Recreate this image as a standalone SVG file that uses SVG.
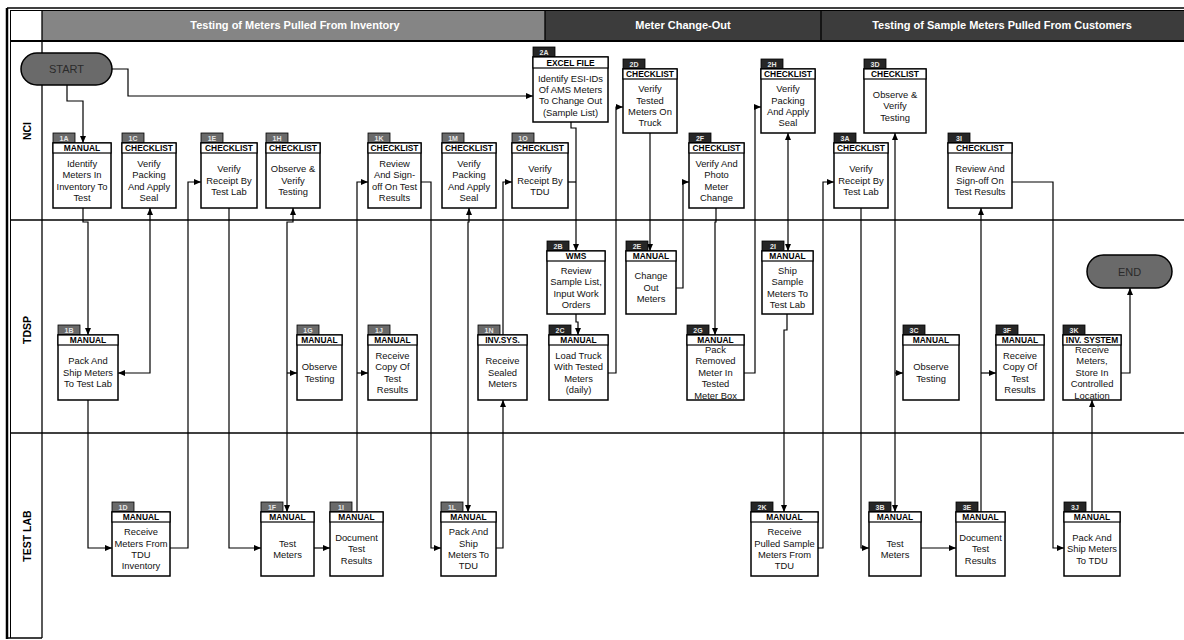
<svg xmlns="http://www.w3.org/2000/svg" width="1184" height="640" viewBox="0 0 1184 640">
<style>
.box{fill:#fff;stroke:#000;stroke-width:1.5}
.hd{fill:#fff;stroke:#000;stroke-width:1.2}
.hdr{font-family:"Liberation Sans",Arial,sans-serif;font-size:8.4px;font-weight:bold;text-anchor:middle;fill:#000}
.body{font-family:"Liberation Sans",Arial,sans-serif;font-size:9.4px;text-anchor:middle;fill:#111}
.tab{stroke:#000;stroke-width:0.8}
.ta{fill:#6a6a6a}
.tb{fill:#262626}
.tid{font-family:"Liberation Sans",Arial,sans-serif;font-size:7px;font-weight:bold;text-anchor:middle;fill:#e6e6e6}
.conn path{fill:none;stroke:#000;stroke-width:1.2}
.ln{stroke:#000;stroke-width:1.3;fill:none}
.band{font-family:"Liberation Sans",Arial,sans-serif;font-size:11px;font-weight:bold;text-anchor:middle;fill:#fff}
.lane{font-family:"Liberation Sans",Arial,sans-serif;font-size:10.5px;font-weight:bold;text-anchor:middle;fill:#000}
.term{fill:#6a6a6a;stroke:#000;stroke-width:1.5}
.tt{font-family:"Liberation Sans",Arial,sans-serif;font-size:11px;text-anchor:middle;fill:#2a2a2a}
</style>
<defs>
<marker id="ar" markerWidth="7" markerHeight="6" refX="7" refY="3" orient="auto-start-reverse" markerUnits="userSpaceOnUse"><path d="M0,0 L7,3 L0,6 z" fill="#000"/></marker>
</defs>
<rect width="1184" height="640" fill="#fff"/>
<!-- frame and lanes -->
<g id="frame">
<rect x="42" y="10" width="503" height="31" fill="#858585"/>
<rect x="545" y="10" width="276" height="31" fill="#3c3c3c"/>
<rect x="821" y="10" width="363" height="31" fill="#3c3c3c"/>
<line class="ln" x1="545" y1="10" x2="545" y2="41"/>
<line class="ln" x1="821" y1="10" x2="821" y2="41"/>
<text class="band" x="295" y="29">Testing of Meters Pulled From Inventory</text>
<text class="band" x="683" y="29">Meter Change-Out</text>
<text class="band" x="1002" y="29">Testing of Sample Meters Pulled From Customers</text>
<line x1="7" y1="8" x2="1184" y2="8" stroke="#000" stroke-width="1.5"/>
<line x1="10" y1="10.5" x2="1184" y2="10.5" stroke="#000" stroke-width="1"/>
<line x1="7" y1="8" x2="7" y2="639" stroke="#000" stroke-width="2.5"/>
<line x1="10.5" y1="10" x2="10.5" y2="638" stroke="#000" stroke-width="1"/>
<line class="ln" x1="42" y1="10" x2="42" y2="638"/>
<line x1="10" y1="41" x2="1184" y2="41" stroke="#000" stroke-width="2"/>
<line class="ln" x1="10" y1="220" x2="1184" y2="220"/>
<line class="ln" x1="10" y1="433" x2="1184" y2="433"/>
<line class="ln" x1="7" y1="638" x2="42" y2="638"/>
<text class="lane" transform="translate(31,131) rotate(-90)">NCI</text>
<text class="lane" transform="translate(31,330) rotate(-90)">TDSP</text>
<text class="lane" transform="translate(31,536) rotate(-90)">TEST LAB</text>
</g>
<!-- connectors -->
<g id="connectors" class="conn">
<path d="M67,85 V101 H83 V143" marker-end="url(#ar)"/>
<path d="M112,69 H128 V96 H533" marker-end="url(#ar)"/>
<path d="M83,208 V222 H88 V335" marker-end="url(#ar)"/>
<path d="M118,373 H150 V208" marker-start="url(#ar)" marker-end="url(#ar)"/>
<path d="M88,400 V548 H112" marker-end="url(#ar)"/>
<path d="M170,548 H188 V182 H201" marker-end="url(#ar)"/>
<path d="M229,208 V548 H261" marker-end="url(#ar)"/>
<path d="M314,548 H330" marker-end="url(#ar)"/>
<path d="M293,208 V222 H287 V512" marker-start="url(#ar)" marker-end="url(#ar)"/>
<path d="M287,373 H297" marker-end="url(#ar)"/>
<path d="M357,512 V182 H368" marker-end="url(#ar)"/>
<path d="M357,373 H368" marker-end="url(#ar)"/>
<path d="M421,182 H431 V548 H441" marker-end="url(#ar)"/>
<path d="M469,208 V222 H468 V512" marker-start="url(#ar)" marker-end="url(#ar)"/>
<path d="M496,548 H503 V400" marker-end="url(#ar)"/>
<path d="M503,335 V182 H512" marker-end="url(#ar)"/>
<path d="M571,122 V128 H576 V251" marker-end="url(#ar)"/>
<path d="M568,182 H576"/>
<path d="M576,314 V322 H578 V335" marker-end="url(#ar)"/>
<path d="M608,373 H616 V107 H623" marker-end="url(#ar)"/>
<path d="M650,133 V251" marker-end="url(#ar)"/>
<path d="M676,288 H683 V182 H689" marker-end="url(#ar)"/>
<path d="M716,208 V222 H715 V335" marker-end="url(#ar)"/>
<path d="M744,373 H755 V107 H761" marker-end="url(#ar)"/>
<path d="M788,133 V251" marker-start="url(#ar)" marker-end="url(#ar)"/>
<path d="M787,314 V330 H784 V512" marker-end="url(#ar)"/>
<path d="M818,548 H823 V182 H834" marker-end="url(#ar)"/>
<path d="M861,208 V548 H869" marker-end="url(#ar)"/>
<path d="M895,512 V133" marker-start="url(#ar)" marker-end="url(#ar)"/>
<path d="M895,373 H903" marker-end="url(#ar)"/>
<path d="M921,548 H956" marker-end="url(#ar)"/>
<path d="M981,512 V208" marker-end="url(#ar)"/>
<path d="M981,373 H996" marker-end="url(#ar)"/>
<path d="M1012,182 H1053 V548 H1064" marker-end="url(#ar)"/>
<path d="M1092,512 V400" marker-end="url(#ar)"/>
<path d="M1121,373 H1130 V288" marker-end="url(#ar)"/>
</g>
<!-- terminals -->
<g id="start"><rect class="term" x="21" y="53" width="91" height="32" rx="16"/><text class="tt" x="66.5" y="73">START</text></g>
<g id="end"><rect class="term" x="1087" y="255" width="85" height="33" rx="16.5"/><text class="tt" x="1129.5" y="275.5">END</text></g>
<!-- NCI nodes -->
<g id="n1A"><rect class="tab ta" x="53" y="133" width="22" height="10"/><text class="tid" x="64" y="140.5">1A</text><rect class="box" x="53" y="143" width="58" height="65"/><text class="body" x="82" y="166.7"><tspan x="82">Identify</tspan><tspan x="82" dy="11.4">Meters In</tspan><tspan x="82" dy="11.4">Inventory To</tspan><tspan x="82" dy="11.4">Test</tspan></text><rect class="hd" x="53" y="143" width="58" height="10"/><text class="hdr" x="82" y="151.3">MANUAL</text></g>
<g id="n1C"><rect class="tab ta" x="122" y="133" width="22" height="10"/><text class="tid" x="133" y="140.5">1C</text><rect class="box" x="122" y="143" width="54" height="65"/><text class="body" x="149" y="166.7"><tspan x="149">Verify</tspan><tspan x="149" dy="11.4">Packing</tspan><tspan x="149" dy="11.4">And Apply</tspan><tspan x="149" dy="11.4">Seal</tspan></text><rect class="hd" x="122" y="143" width="54" height="10"/><text class="hdr" x="149" y="151.3">CHECKLIST</text></g>
<g id="n1E"><rect class="tab ta" x="201" y="133" width="22" height="10"/><text class="tid" x="212" y="140.5">1E</text><rect class="box" x="201" y="143" width="56" height="65"/><text class="body" x="229" y="172.4"><tspan x="229">Verify</tspan><tspan x="229" dy="11.4">Receipt By</tspan><tspan x="229" dy="11.4">Test Lab</tspan></text><rect class="hd" x="201" y="143" width="56" height="10"/><text class="hdr" x="229" y="151.3">CHECKLIST</text></g>
<g id="n1H"><rect class="tab ta" x="266" y="133" width="22" height="10"/><text class="tid" x="277" y="140.5">1H</text><rect class="box" x="266" y="143" width="54" height="65"/><text class="body" x="293" y="172.4"><tspan x="293">Observe &amp;</tspan><tspan x="293" dy="11.4">Verify</tspan><tspan x="293" dy="11.4">Testing</tspan></text><rect class="hd" x="266" y="143" width="54" height="10"/><text class="hdr" x="293" y="151.3">CHECKLIST</text></g>
<g id="n1K"><rect class="tab ta" x="368" y="133" width="22" height="10"/><text class="tid" x="379" y="140.5">1K</text><rect class="box" x="368" y="143" width="53" height="65"/><text class="body" x="394.5" y="166.7"><tspan x="394.5">Review</tspan><tspan x="394.5" dy="11.4">And Sign-</tspan><tspan x="394.5" dy="11.4">off On Test</tspan><tspan x="394.5" dy="11.4">Results</tspan></text><rect class="hd" x="368" y="143" width="53" height="10"/><text class="hdr" x="394.5" y="151.3">CHECKLIST</text></g>
<g id="n1M"><rect class="tab ta" x="442" y="133" width="22" height="10"/><text class="tid" x="453" y="140.5">1M</text><rect class="box" x="442" y="143" width="54" height="65"/><text class="body" x="469" y="166.7"><tspan x="469">Verify</tspan><tspan x="469" dy="11.4">Packing</tspan><tspan x="469" dy="11.4">And Apply</tspan><tspan x="469" dy="11.4">Seal</tspan></text><rect class="hd" x="442" y="143" width="54" height="10"/><text class="hdr" x="469" y="151.3">CHECKLIST</text></g>
<g id="n1O"><rect class="tab ta" x="512" y="133" width="22" height="10"/><text class="tid" x="523" y="140.5">1O</text><rect class="box" x="512" y="143" width="56" height="65"/><text class="body" x="540" y="172.4"><tspan x="540">Verify</tspan><tspan x="540" dy="11.4">Receipt By</tspan><tspan x="540" dy="11.4">TDU</tspan></text><rect class="hd" x="512" y="143" width="56" height="10"/><text class="hdr" x="540" y="151.3">CHECKLIST</text></g>
<g id="n2A"><rect class="tab tb" x="533" y="47" width="22" height="10"/><text class="tid" x="544" y="54.5">2A</text><rect class="box" x="533" y="57" width="75" height="65"/><text class="body" x="570.5" y="81.5"><tspan x="570.5">Identify ESI-IDs</tspan><tspan x="570.5" dy="11.4">Of AMS Meters</tspan><tspan x="570.5" dy="11.4">To Change Out</tspan><tspan x="570.5" dy="11.4">(Sample List)</tspan></text><rect class="hd" x="533" y="57" width="75" height="11"/><text class="hdr" x="570.5" y="65.8">EXCEL FILE</text></g>
<g id="n2D"><rect class="tab tb" x="623" y="59" width="22" height="10"/><text class="tid" x="634" y="66.5">2D</text><rect class="box" x="623" y="69" width="54" height="64"/><text class="body" x="650" y="92.2"><tspan x="650">Verify</tspan><tspan x="650" dy="11.4">Tested</tspan><tspan x="650" dy="11.4">Meters On</tspan><tspan x="650" dy="11.4">Truck</tspan></text><rect class="hd" x="623" y="69" width="54" height="10"/><text class="hdr" x="650" y="77.3">CHECKLIST</text></g>
<g id="n2F"><rect class="tab tb" x="689" y="133" width="22" height="10"/><text class="tid" x="700" y="140.5">2F</text><rect class="box" x="689" y="143" width="55" height="65"/><text class="body" x="716.5" y="166.7"><tspan x="716.5">Verify And</tspan><tspan x="716.5" dy="11.4">Photo</tspan><tspan x="716.5" dy="11.4">Meter</tspan><tspan x="716.5" dy="11.4">Change</tspan></text><rect class="hd" x="689" y="143" width="55" height="10"/><text class="hdr" x="716.5" y="151.3">CHECKLIST</text></g>
<g id="n2H"><rect class="tab tb" x="761" y="59" width="22" height="10"/><text class="tid" x="772" y="66.5">2H</text><rect class="box" x="761" y="69" width="54" height="64"/><text class="body" x="788" y="92.2"><tspan x="788">Verify</tspan><tspan x="788" dy="11.4">Packing</tspan><tspan x="788" dy="11.4">And Apply</tspan><tspan x="788" dy="11.4">Seal</tspan></text><rect class="hd" x="761" y="69" width="54" height="10"/><text class="hdr" x="788" y="77.3">CHECKLIST</text></g>
<g id="n3D"><rect class="tab tb" x="864" y="59" width="22" height="10"/><text class="tid" x="875" y="66.5">3D</text><rect class="box" x="864" y="69" width="62" height="64"/><text class="body" x="895" y="97.9"><tspan x="895">Observe &amp;</tspan><tspan x="895" dy="11.4">Verify</tspan><tspan x="895" dy="11.4">Testing</tspan></text><rect class="hd" x="864" y="69" width="62" height="10"/><text class="hdr" x="895" y="77.3">CHECKLIST</text></g>
<g id="n3A"><rect class="tab tb" x="834" y="133" width="22" height="10"/><text class="tid" x="845" y="140.5">3A</text><rect class="box" x="834" y="143" width="54" height="65"/><text class="body" x="861" y="172.4"><tspan x="861">Verify</tspan><tspan x="861" dy="11.4">Receipt By</tspan><tspan x="861" dy="11.4">Test Lab</tspan></text><rect class="hd" x="834" y="143" width="54" height="10"/><text class="hdr" x="861" y="151.3">CHECKLIST</text></g>
<g id="n3I"><rect class="tab tb" x="948" y="133" width="22" height="10"/><text class="tid" x="959" y="140.5">3I</text><rect class="box" x="948" y="143" width="64" height="65"/><text class="body" x="980" y="172.4"><tspan x="980">Review And</tspan><tspan x="980" dy="11.4">Sign-off On</tspan><tspan x="980" dy="11.4">Test Results</tspan></text><rect class="hd" x="948" y="143" width="64" height="10"/><text class="hdr" x="980" y="151.3">CHECKLIST</text></g>
<!-- TDSP nodes -->
<g id="n1B"><rect class="tab ta" x="58" y="325" width="22" height="10"/><text class="tid" x="69" y="332.5">1B</text><rect class="box" x="58" y="335" width="60" height="65"/><text class="body" x="88" y="364.4"><tspan x="88">Pack And</tspan><tspan x="88" dy="11.4">Ship Meters</tspan><tspan x="88" dy="11.4">To Test Lab</tspan></text><rect class="hd" x="58" y="335" width="60" height="10"/><text class="hdr" x="88" y="343.3">MANUAL</text></g>
<g id="n1G"><rect class="tab ta" x="297" y="325" width="22" height="10"/><text class="tid" x="308" y="332.5">1G</text><rect class="box" x="297" y="335" width="45" height="65"/><text class="body" x="319.5" y="370.1"><tspan x="319.5">Observe</tspan><tspan x="319.5" dy="11.4">Testing</tspan></text><rect class="hd" x="297" y="335" width="45" height="10"/><text class="hdr" x="319.5" y="343.3">MANUAL</text></g>
<g id="n1J"><rect class="tab ta" x="368" y="325" width="22" height="10"/><text class="tid" x="379" y="332.5">1J</text><rect class="box" x="368" y="335" width="49" height="65"/><text class="body" x="392.5" y="358.7"><tspan x="392.5">Receive</tspan><tspan x="392.5" dy="11.4">Copy Of</tspan><tspan x="392.5" dy="11.4">Test</tspan><tspan x="392.5" dy="11.4">Results</tspan></text><rect class="hd" x="368" y="335" width="49" height="10"/><text class="hdr" x="392.5" y="343.3">MANUAL</text></g>
<g id="n1N"><rect class="tab ta" x="478" y="325" width="22" height="10"/><text class="tid" x="489" y="332.5">1N</text><rect class="box" x="478" y="335" width="49" height="65"/><text class="body" x="502.5" y="364.4"><tspan x="502.5">Receive</tspan><tspan x="502.5" dy="11.4">Sealed</tspan><tspan x="502.5" dy="11.4">Meters</tspan></text><rect class="hd" x="478" y="335" width="49" height="10"/><text class="hdr" x="502.5" y="343.3">INV.SYS.</text></g>
<g id="n2B"><rect class="tab tb" x="547" y="241" width="22" height="10"/><text class="tid" x="558" y="248.5">2B</text><rect class="box" x="547" y="251" width="58" height="63"/><text class="body" x="576" y="273.7"><tspan x="576">Review</tspan><tspan x="576" dy="11.4">Sample List,</tspan><tspan x="576" dy="11.4">Input Work</tspan><tspan x="576" dy="11.4">Orders</tspan></text><rect class="hd" x="547" y="251" width="58" height="10"/><text class="hdr" x="576" y="259.3">WMS</text></g>
<g id="n2C"><rect class="tab tb" x="549" y="325" width="22" height="10"/><text class="tid" x="560" y="332.5">2C</text><rect class="box" x="549" y="335" width="59" height="65"/><text class="body" x="578.5" y="358.7"><tspan x="578.5">Load Truck</tspan><tspan x="578.5" dy="11.4">With Tested</tspan><tspan x="578.5" dy="11.4">Meters</tspan><tspan x="578.5" dy="11.4">(daily)</tspan></text><rect class="hd" x="549" y="335" width="59" height="10"/><text class="hdr" x="578.5" y="343.3">MANUAL</text></g>
<g id="n2E"><rect class="tab tb" x="626" y="241" width="22" height="10"/><text class="tid" x="637" y="248.5">2E</text><rect class="box" x="626" y="251" width="50" height="63"/><text class="body" x="651" y="279.4"><tspan x="651">Change</tspan><tspan x="651" dy="11.4">Out</tspan><tspan x="651" dy="11.4">Meters</tspan></text><rect class="hd" x="626" y="251" width="50" height="10"/><text class="hdr" x="651" y="259.3">MANUAL</text></g>
<g id="n2G"><rect class="tab tb" x="687" y="325" width="22" height="10"/><text class="tid" x="698" y="332.5">2G</text><rect class="box" x="687" y="335" width="57" height="65"/><text class="body" x="715.5" y="353"><tspan x="715.5">Pack</tspan><tspan x="715.5" dy="11.4">Removed</tspan><tspan x="715.5" dy="11.4">Meter In</tspan><tspan x="715.5" dy="11.4">Tested</tspan><tspan x="715.5" dy="11.4">Meter Box</tspan></text><rect class="hd" x="687" y="335" width="57" height="10"/><text class="hdr" x="715.5" y="343.3">MANUAL</text></g>
<g id="n2I"><rect class="tab tb" x="762" y="241" width="22" height="10"/><text class="tid" x="773" y="248.5">2I</text><rect class="box" x="762" y="251" width="51" height="63"/><text class="body" x="787.5" y="273.7"><tspan x="787.5">Ship</tspan><tspan x="787.5" dy="11.4">Sample</tspan><tspan x="787.5" dy="11.4">Meters To</tspan><tspan x="787.5" dy="11.4">Test Lab</tspan></text><rect class="hd" x="762" y="251" width="51" height="10"/><text class="hdr" x="787.5" y="259.3">MANUAL</text></g>
<g id="n3C"><rect class="tab tb" x="903" y="325" width="22" height="10"/><text class="tid" x="914" y="332.5">3C</text><rect class="box" x="903" y="335" width="56" height="65"/><text class="body" x="931" y="370.1"><tspan x="931">Observe</tspan><tspan x="931" dy="11.4">Testing</tspan></text><rect class="hd" x="903" y="335" width="56" height="10"/><text class="hdr" x="931" y="343.3">MANUAL</text></g>
<g id="n3F"><rect class="tab tb" x="996" y="325" width="22" height="10"/><text class="tid" x="1007" y="332.5">3F</text><rect class="box" x="996" y="335" width="48" height="65"/><text class="body" x="1020" y="358.7"><tspan x="1020">Receive</tspan><tspan x="1020" dy="11.4">Copy Of</tspan><tspan x="1020" dy="11.4">Test</tspan><tspan x="1020" dy="11.4">Results</tspan></text><rect class="hd" x="996" y="335" width="48" height="10"/><text class="hdr" x="1020" y="343.3">MANUAL</text></g>
<g id="n3K"><rect class="tab tb" x="1063" y="325" width="22" height="10"/><text class="tid" x="1074" y="332.5">3K</text><rect class="box" x="1063" y="335" width="58" height="65"/><text class="body" x="1092" y="353"><tspan x="1092">Receive</tspan><tspan x="1092" dy="11.4">Meters,</tspan><tspan x="1092" dy="11.4">Store In</tspan><tspan x="1092" dy="11.4">Controlled</tspan><tspan x="1092" dy="11.4">Location</tspan></text><rect class="hd" x="1063" y="335" width="58" height="10"/><text class="hdr" x="1092" y="343.3">INV. SYSTEM</text></g>
<!-- TEST LAB nodes -->
<g id="n1D"><rect class="tab ta" x="112" y="502" width="22" height="10"/><text class="tid" x="123" y="509.5">1D</text><rect class="box" x="112" y="512" width="58" height="64"/><text class="body" x="141" y="535.2"><tspan x="141">Receive</tspan><tspan x="141" dy="11.4">Meters From</tspan><tspan x="141" dy="11.4">TDU</tspan><tspan x="141" dy="11.4">Inventory</tspan></text><rect class="hd" x="112" y="512" width="58" height="10"/><text class="hdr" x="141" y="520.3">MANUAL</text></g>
<g id="n1F"><rect class="tab ta" x="261" y="502" width="22" height="10"/><text class="tid" x="272" y="509.5">1F</text><rect class="box" x="261" y="512" width="53" height="64"/><text class="body" x="287.5" y="546.6"><tspan x="287.5">Test</tspan><tspan x="287.5" dy="11.4">Meters</tspan></text><rect class="hd" x="261" y="512" width="53" height="10"/><text class="hdr" x="287.5" y="520.3">MANUAL</text></g>
<g id="n1I"><rect class="tab ta" x="330" y="502" width="22" height="10"/><text class="tid" x="341" y="509.5">1I</text><rect class="box" x="330" y="512" width="53" height="64"/><text class="body" x="356.5" y="540.9"><tspan x="356.5">Document</tspan><tspan x="356.5" dy="11.4">Test</tspan><tspan x="356.5" dy="11.4">Results</tspan></text><rect class="hd" x="330" y="512" width="53" height="10"/><text class="hdr" x="356.5" y="520.3">MANUAL</text></g>
<g id="n1L"><rect class="tab ta" x="441" y="502" width="22" height="10"/><text class="tid" x="452" y="509.5">1L</text><rect class="box" x="441" y="512" width="55" height="64"/><text class="body" x="468.5" y="535.2"><tspan x="468.5">Pack And</tspan><tspan x="468.5" dy="11.4">Ship</tspan><tspan x="468.5" dy="11.4">Meters To</tspan><tspan x="468.5" dy="11.4">TDU</tspan></text><rect class="hd" x="441" y="512" width="55" height="10"/><text class="hdr" x="468.5" y="520.3">MANUAL</text></g>
<g id="n2K"><rect class="tab tb" x="751" y="502" width="22" height="10"/><text class="tid" x="762" y="509.5">2K</text><rect class="box" x="751" y="512" width="67" height="64"/><text class="body" x="784.5" y="535.2"><tspan x="784.5">Receive</tspan><tspan x="784.5" dy="11.4">Pulled Sample</tspan><tspan x="784.5" dy="11.4">Meters From</tspan><tspan x="784.5" dy="11.4">TDU</tspan></text><rect class="hd" x="751" y="512" width="67" height="10"/><text class="hdr" x="784.5" y="520.3">MANUAL</text></g>
<g id="n3B"><rect class="tab tb" x="869" y="502" width="22" height="10"/><text class="tid" x="880" y="509.5">3B</text><rect class="box" x="869" y="512" width="52" height="64"/><text class="body" x="895" y="546.6"><tspan x="895">Test</tspan><tspan x="895" dy="11.4">Meters</tspan></text><rect class="hd" x="869" y="512" width="52" height="10"/><text class="hdr" x="895" y="520.3">MANUAL</text></g>
<g id="n3E"><rect class="tab tb" x="956" y="502" width="22" height="10"/><text class="tid" x="967" y="509.5">3E</text><rect class="box" x="956" y="512" width="49" height="64"/><text class="body" x="980.5" y="540.9"><tspan x="980.5">Document</tspan><tspan x="980.5" dy="11.4">Test</tspan><tspan x="980.5" dy="11.4">Results</tspan></text><rect class="hd" x="956" y="512" width="49" height="10"/><text class="hdr" x="980.5" y="520.3">MANUAL</text></g>
<g id="n3J"><rect class="tab tb" x="1064" y="502" width="22" height="10"/><text class="tid" x="1075" y="509.5">3J</text><rect class="box" x="1064" y="512" width="56" height="64"/><text class="body" x="1092" y="540.9"><tspan x="1092">Pack And</tspan><tspan x="1092" dy="11.4">Ship Meters</tspan><tspan x="1092" dy="11.4">To TDU</tspan></text><rect class="hd" x="1064" y="512" width="56" height="10"/><text class="hdr" x="1092" y="520.3">MANUAL</text></g>
</svg>
